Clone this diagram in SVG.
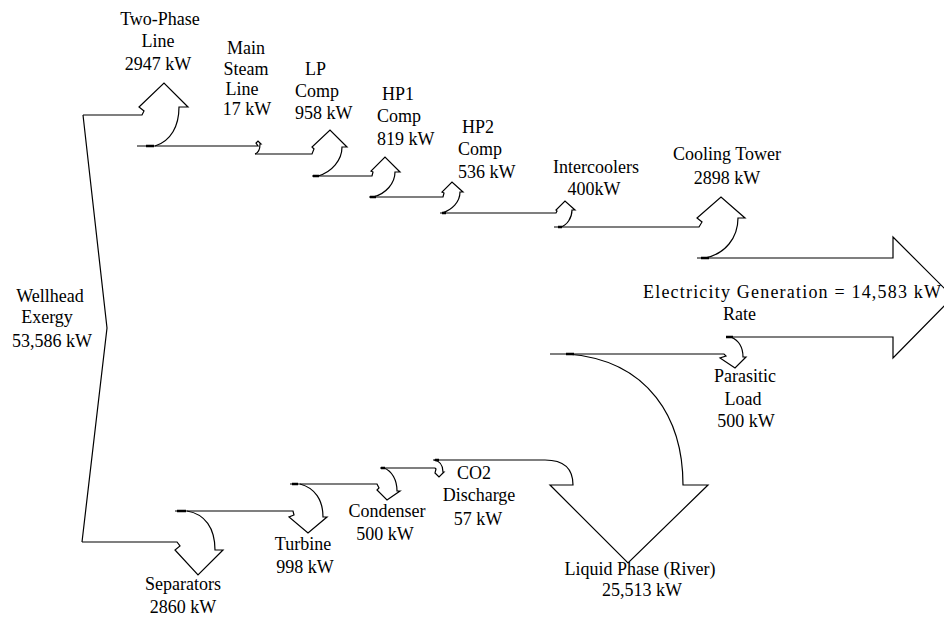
<svg xmlns="http://www.w3.org/2000/svg" width="944" height="618" viewBox="0 0 944 618">
<style>
.f{fill:none;stroke:#000;stroke-width:1.2;stroke-linejoin:miter}
.k{fill:none;stroke:#000;stroke-width:2.4}
text{font-family:"Liberation Serif","Times New Roman",serif;font-size:18px;fill:#000}
.m{text-anchor:middle}
</style>
<rect width="944" height="618" fill="#fff"/>
<g id="connectors">
<path class="f" d="M83,115 L107,328 L82,542"/>
<path class="f" d="M83,115 L142,115 L144,111 L139,107 L164,83 L188,107 L179,107 C179,126 171,141 155,146"/>
<path class="f" d="M137,146 L255,146 L258,146 L256,143 L258,141 L261,144 L260,144 C260,150 258,153 255,154"/>
<path class="f" d="M255,154 L312,154 L314,149 L312,147 L330,130 L347,147 L342,147 C342,160 332,172 318,176"/>
<path class="f" d="M312,176 L372,176 L373,172 L371,171 L385,157 L400,172 L395,172 C395,183 386,194 373,197"/>
<path class="f" d="M369,197 L443,197 L444,193 L442,192 L452,182 L463,192 L460,192 C460,202 452,210 442,213"/>
<path class="f" d="M440,213 L556,213 L557,211 L556,210 L565,201 L575,210 L572,210 C572,218 567,225 561,227"/>
<path class="f" d="M554,227 L699,227 L702,222 L697,218 L721,197 L745,218 L738,218 C738,238 725,254 705,258"/>
<path class="f" d="M697,258 L893,258 L893,237 L953,297 L893,358 L893,337 L730,337"/>
<path class="f" d="M731,337 C740,341 743,348 743,357 L746,357 L735,368 L720,358 L726,356 L724,354 L550,354"/>
<path class="f" d="M567,354 C650,360 683,420 683,485 L708,485 L628,563 L550,485 L573,485 C573,470 566,460 545,460 L433,460"/>
<path class="f" d="M380,468 L435,468 L436,469 L435,473 L439,477 L444,472 L443,472 C443,465 440,461 434,460"/>
<path class="f" d="M290,484 L377,484 L379,488 L377,490 L387,500 L400,491 L397,491 C397,480 392,471 384,468"/>
<path class="f" d="M175,511 L293,511 L294,515 L289,517 L308,533 L327,517 L323,517 C323,500 315,488 300,484"/>
<path class="f" d="M82,542 L177,542 L180,546 L175,550 L198,575 L223,550 L215,550 C215,528 205,514 187,511"/>
<path class="k" d="M146,146 H154 M313,176 H319 M370,197 H376 M442,213 H446 M558,227 H562 M701,258 H709 M726,337 H733 M566,354 H574 M177,511 H186 M292,484 H298 M381,468 H385 M435,460 H439"/>
</g>
<g id="wellhead"><text class="m" x="50" y="302">Wellhead</text><text class="m" x="47" y="323">Exergy</text><text class="m" x="52" y="347">53,586 kW</text></g>
<g id="two-phase"><text class="m" x="160" y="25">Two-Phase</text><text class="m" x="158" y="47">Line</text><text class="m" x="158" y="70">2947 kW</text></g>
<g id="main-steam"><text class="m" x="246" y="54">Main</text><text class="m" x="246" y="75">Steam</text><text class="m" x="242" y="95">Line</text><text class="m" x="247" y="115">17 kW</text></g>
<g id="lp-comp"><text x="305" y="75">LP</text><text x="295" y="97">Comp</text><text x="295" y="119">958 kW</text></g>
<g id="hp1-comp"><text x="382" y="100">HP1</text><text x="377" y="122">Comp</text><text x="377" y="145">819 kW</text></g>
<g id="hp2-comp"><text x="462" y="133">HP2</text><text x="458" y="155">Comp</text><text x="458" y="178">536 kW</text></g>
<g id="intercoolers"><text class="m" x="596" y="173">Intercoolers</text><text class="m" x="594" y="195">400kW</text></g>
<g id="cooling-tower"><text class="m" x="727" y="160">Cooling Tower</text><text class="m" x="727" y="184">2898 kW</text></g>
<g id="electricity"><text x="643" y="298" textLength="298" lengthAdjust="spacing">Electricity Generation = 14,583 kW</text><text x="723" y="320">Rate</text></g>
<g id="parasitic"><text class="m" x="745" y="382">Parasitic</text><text class="m" x="743" y="405">Load</text><text class="m" x="746" y="427">500 kW</text></g>
<g id="liquid-phase"><text class="m" x="640" y="575">Liquid Phase (River)</text><text class="m" x="642" y="596">25,513 kW</text></g>
<g id="separators"><text class="m" x="183" y="590">Separators</text><text class="m" x="183" y="613">2860 kW</text></g>
<g id="turbine"><text class="m" x="303" y="550">Turbine</text><text class="m" x="305" y="573">998 kW</text></g>
<g id="condenser"><text class="m" x="387" y="517">Condenser</text><text class="m" x="385" y="540">500 kW</text></g>
<g id="co2"><text class="m" x="474" y="479">CO2</text><text class="m" x="479" y="501">Discharge</text><text class="m" x="478" y="525">57 kW</text></g>
</svg>
